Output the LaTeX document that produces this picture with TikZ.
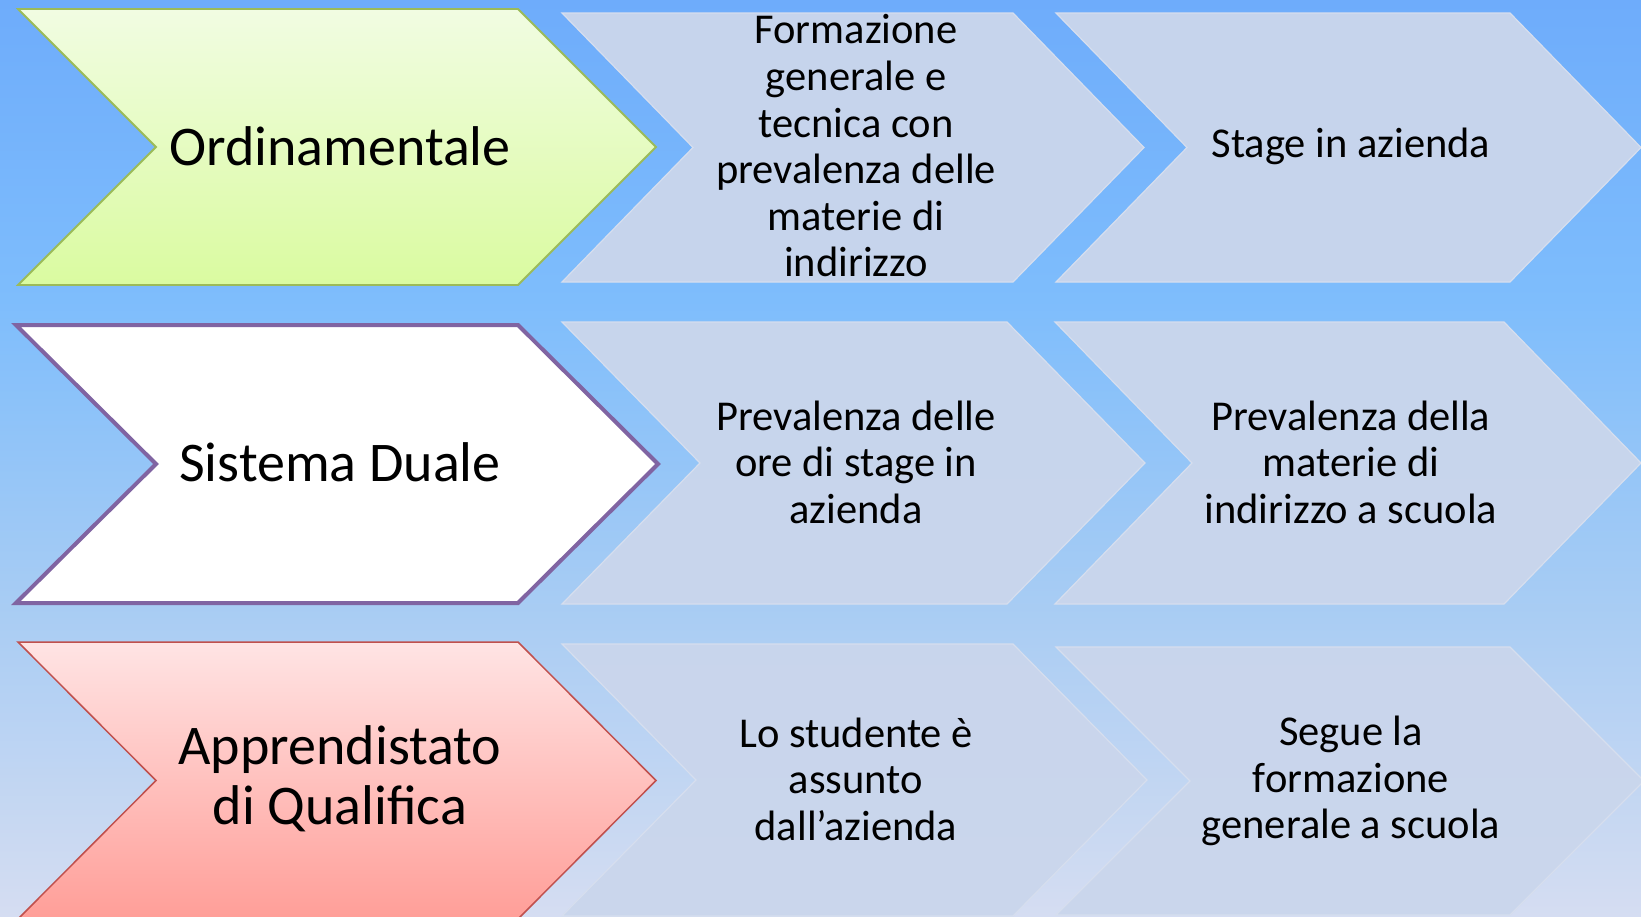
\documentclass[tikz,border=0pt]{standalone}
\usepackage{fontspec}
\setmainfont{Carlito}
\definecolor{bgA}{RGB}{110,172,251}
\definecolor{bgB}{RGB}{126,189,252}
\definecolor{bgC}{RGB}{170,205,243}
\definecolor{bgD}{RGB}{213,221,242}
\definecolor{grayfill}{RGB}{202,214,236}
\definecolor{grayedge}{RGB}{214,222,238}
\definecolor{greenT}{RGB}{241,252,226}
\definecolor{greenB}{RGB}{218,251,160}
\definecolor{greenE}{RGB}{155,187,89}
\definecolor{purpleE}{RGB}{128,100,162}
\definecolor{redT}{RGB}{255,228,228}
\definecolor{redB}{RGB}{255,158,152}
\definecolor{redE}{RGB}{192,80,77}
\newcommand\chevpath[5]{(#1,#2) -- ({#1+#3},#2) -- ({#1+#3+#5},{#2+#4/2}) -- ({#1+#3},{#2+#4}) -- (#1,{#2+#4}) -- ({#1+#5},{#2+#4/2}) -- cycle}
\tikzset{
  graychev/.style={fill=grayfill, fill opacity=0.96, draw=grayedge, line width=1.2pt},
  greenchev/.style={top color=greenT, bottom color=greenB, draw=greenE, line width=1.8pt},
  whitechev/.style={fill=white, draw=purpleE, line width=4pt},
  redchev/.style={top color=redT, bottom color=redB, draw=redE, line width=1.5pt},
  mainlbl/.style={inner sep=0pt, align=center, font=\fontsize{56}{60}\selectfont},
  graylbl/.style={inner sep=0pt, align=center, font=\fontsize{42.5}{46.6}\selectfont}
}
\begin{document}
\begin{tikzpicture}[x=1pt,y=-1pt]
\useasboundingbox (0,0) rectangle (1641,916);
\clip (0,0) rectangle (1641,916);
% background
\shade[top color=bgA, bottom color=bgB] (0,0) rectangle (1641,301);
\shade[top color=bgB, bottom color=bgC] (0,300) rectangle (1641,621);
\shade[top color=bgC, bottom color=bgD] (0,620) rectangle (1641,916);
% row 1
\path[greenchev] \chevpath{18}{9}{500}{276}{138};
\path[graychev] \chevpath{562}{13}{451}{269}{131};
\path[graychev] \chevpath{1056}{13}{454}{269}{131};
% row 2
\path[whitechev] \chevpath{16}{325}{502}{278}{140};
\path[graychev] \chevpath{562}{322}{445}{282}{138};
\path[graychev] \chevpath{1055}{322}{449}{282}{137};
% row 3
\path[redchev] \chevpath{18}{642}{500}{277}{138};
\path[graychev] \chevpath{562}{644}{451}{272}{134};
\path[graychev] \chevpath{1056}{647}{454}{268}{134};
% labels
\node[mainlbl] (ord) at (340,146) {Ordinamentale};
\node[graylbl] (ord1) at (856,146) {Formazione\\generale e\\tecnica con\\prevalenza delle\\materie di\\indirizzo};
\node[graylbl] (ord2) at (1351,146) {Stage in azienda};
\node[mainlbl] (dua) at (340,462) {Sistema Duale};
\node[graylbl] (dua1) at (856,462) {Prevalenza delle\\ore di stage in\\azienda};
\node[graylbl] (dua2) at (1351,462) {Prevalenza della\\materie di\\indirizzo a scuola};
\node[mainlbl] (app) at (340,779) {Apprendistato\\di Qualifica};
\node[graylbl] (app1) at (856,779) {Lo studente è\\assunto\\dall’azienda};
\node[graylbl] (app2) at (1351,781) {Segue la\\formazione\\generale a scuola};
\end{tikzpicture}
\end{document}
